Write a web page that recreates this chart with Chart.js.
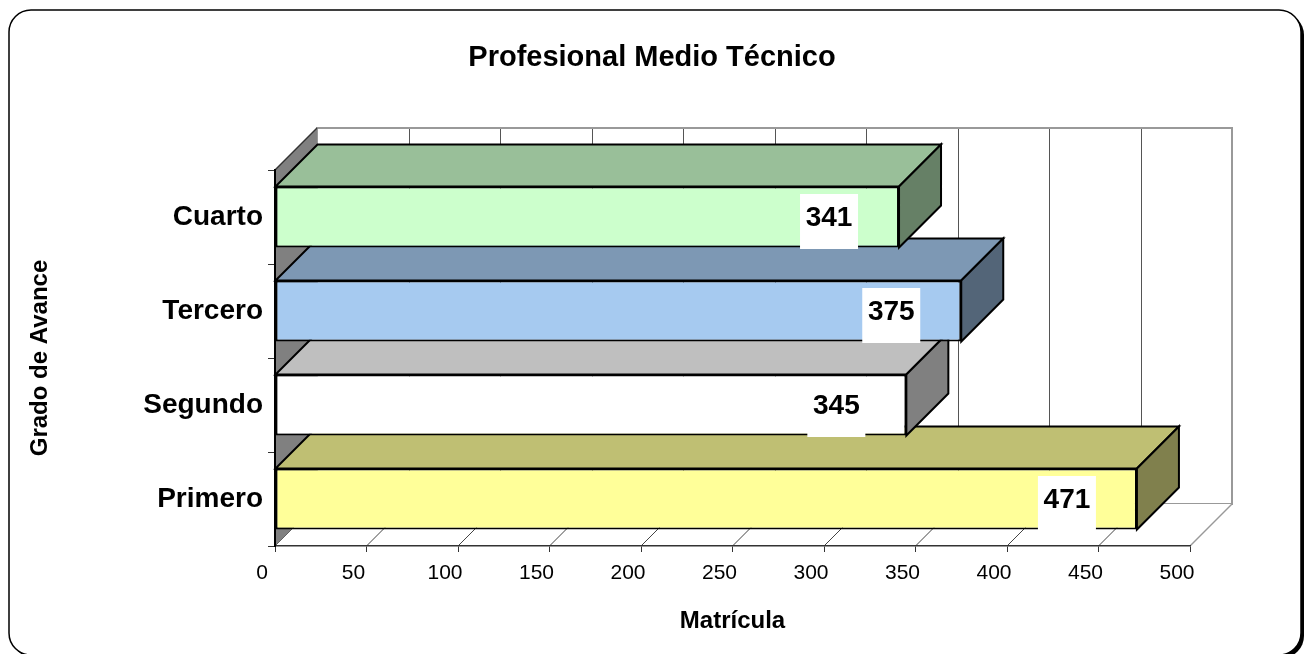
<!DOCTYPE html>
<html>
<head>
<meta charset="utf-8">
<script src="https://cdn.jsdelivr.net/npm/chart.js@4.4.1/dist/chart.umd.min.js"></script>
<style>
html,body{margin:0;padding:0;background:#fff;}
#wrap{width:1304px;height:654px;position:relative;}
</style>
</head>
<body>
<div id="wrap"><canvas id="chart"></canvas></div>
<script>
// data
const categories=['Cuarto','Tercero','Segundo','Primero'];
const matricula=[341,375,345,471];
const frontColors=['#CCFFCC','#A6CAF0','#FFFFFF','#FFFF99'];
const xTicks=[0,50,100,150,200,250,300,350,400,450,500];

const FONT='"Liberation Sans", Arial, Helvetica, sans-serif';
const DEPTH=42;

function shade(hex,f){
  const n=parseInt(hex.slice(1),16);
  return `rgb(${Math.round(((n>>16)&255)*f)},${Math.round(((n>>8)&255)*f)},${Math.round((n&255)*f)})`;
}
function poly(ctx,pts,fill,stroke){
  ctx.beginPath();
  pts.forEach((p,i)=>i?ctx.lineTo(p[0],p[1]):ctx.moveTo(p[0],p[1]));
  ctx.closePath();
  if(fill){ctx.fillStyle=fill;ctx.fill();}
  if(stroke){ctx.strokeStyle=stroke;ctx.stroke();}
}
function seg(ctx,x1,y1,x2,y2){ctx.beginPath();ctx.moveTo(x1,y1);ctx.lineTo(x2,y2);ctx.stroke();}

// frame, walls, floor, 3d faces, value boxes
const bars3d={
  id:'bars3d',
  beforeDraw(chart){
    const {ctx,chartArea:a,scales:{x}}=chart, d=DEPTH;
    ctx.save();
    ctx.fillStyle='#000';
    ctx.beginPath();ctx.roundRect(12,13,1292,645,22);ctx.fill();
    ctx.fillStyle='#fff';ctx.strokeStyle='#000';ctx.lineWidth=1.5;
    ctx.beginPath();ctx.roundRect(9,10,1292,645,22);ctx.fill();ctx.stroke();

    // back wall
    ctx.lineWidth=1;ctx.strokeStyle='#555';
    x.ticks.forEach(t=>{
      const px=Math.round(x.getPixelForValue(t.value)+d)+.5;
      seg(ctx,px,a.top-d,px,a.bottom-d);
    });
    ctx.lineWidth=2;ctx.strokeStyle='#999';
    ctx.strokeRect(a.left+d,a.top-d,a.right-a.left,a.bottom-a.top);

    // floor
    ctx.lineWidth=1;
    poly(ctx,[[a.left,a.bottom],[a.right,a.bottom],[a.right+d,a.bottom-d],[a.left+d,a.bottom-d]],'#fff',null);
    ctx.strokeStyle='#444';
    x.ticks.forEach(t=>{
      const px=x.getPixelForValue(t.value);
      seg(ctx,px,a.bottom,px+d,a.bottom-d);
    });
    ctx.lineWidth=1.5;ctx.strokeStyle='#999';
    seg(ctx,a.right,a.bottom,a.right+d,a.bottom-d);

    // left wall
    ctx.lineWidth=1.5;
    poly(ctx,[[a.left,a.top],[a.left+d,a.top-d],[a.left+d,a.bottom-d],[a.left,a.bottom]],'#808080',null);
    ctx.strokeStyle='#333';
    seg(ctx,a.left,a.top,a.left+d,a.top-d);
    ctx.restore();
  },
  beforeDatasetsDraw(chart){
    const {ctx}=chart, d=DEPTH, meta=chart.getDatasetMeta(0);
    ctx.save();
    ctx.lineWidth=2;ctx.lineJoin='miter';
    for(let i=meta.data.length-1;i>=0;i--){
      const b=meta.data[i], top=b.y-b.height/2, bot=b.y+b.height/2, x0=b.base, x1=b.x;
      poly(ctx,[[x0,top],[x1,top],[x1+d,top-d],[x0+d,top-d]],shade(frontColors[i],.75),'#000');
      poly(ctx,[[x1,top],[x1+d,top-d],[x1+d,bot-d],[x1,bot]],shade(frontColors[i],.5),'#000');
    }
    ctx.restore();
  },
  afterDatasetsDraw(chart){
    const {ctx}=chart, meta=chart.getDatasetMeta(0);
    ctx.save();
    ctx.font=`bold 28px ${FONT}`;ctx.textAlign='center';ctx.textBaseline='middle';
    meta.data.forEach((b,i)=>{
      const cx=b.x-70, cy=b.y;
      ctx.fillStyle='#fff';ctx.fillRect(cx-29,cy-23,58,55);
      ctx.fillStyle='#000';ctx.fillText(String(matricula[i]),cx,cy+1);
    });
    ctx.restore();
  }
};

new Chart(document.getElementById('chart'),{
  type:'bar',
  data:{
    labels:categories,
    datasets:[{
      data:matricula,
      backgroundColor:frontColors,
      borderColor:'#000',borderWidth:2,borderSkipped:false,
      barPercentage:.65,categoryPercentage:1
    }]
  },
  options:{
    indexAxis:'y',
    responsive:true,maintainAspectRatio:false,animation:false,
    layout:{padding:{left:9,right:9,top:0,bottom:0}},
    plugins:{
      legend:{display:false},tooltip:{enabled:false},
      title:{display:true,text:'Profesional Medio Técnico',color:'#000',
        font:{family:FONT,size:29,weight:'bold'},padding:{top:41,bottom:94.2}}
    },
    scales:{
      x:{
        type:'linear',min:0,max:500,
        afterBuildTicks:s=>{s.ticks=xTicks.map(v=>({value:v}));},
        afterFit:s=>{s.height=108;},
        ticks:{color:'#000',font:{family:FONT,size:21},labelOffset:-13,padding:9,autoSkip:false,maxRotation:0},
        grid:{drawOnChartArea:false,drawTicks:true,tickLength:6,color:'#333'},
        border:{display:true,color:'#333',width:1.5},
        title:{display:true,text:'Matrícula',color:'#000',font:{family:FONT,size:24,weight:'bold'},padding:{top:0,bottom:18}}
      },
      y:{
        type:'category',position:'left',
        afterFit:s=>{s.width=266;},
        ticks:{color:'#000',font:{family:FONT,size:28,weight:'bold'},padding:5},
        grid:{offset:true,drawOnChartArea:false,drawTicks:true,tickLength:7,color:'#333'},
        border:{display:true,color:'#000',width:2},
        title:{display:true,text:'Grado de Avance',color:'#000',font:{family:FONT,size:24,weight:'bold'},padding:{top:17,bottom:0}}
      },
      yRight:{
        axis:'y',type:'linear',position:'right',display:true,
        afterFit:s=>{s.width=105;},
        ticks:{display:false},grid:{display:false},border:{display:false}
      }
    }
  },
  plugins:[bars3d]
});
</script>
</body>
</html>
